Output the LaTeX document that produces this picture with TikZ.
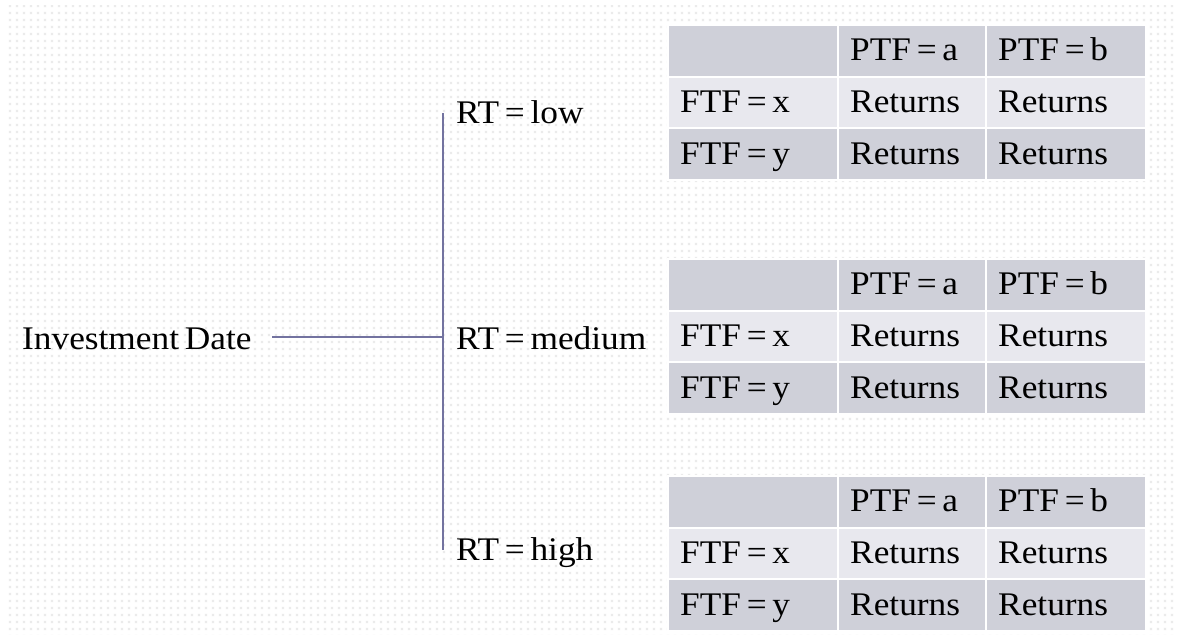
\documentclass[tikz,border=0pt]{standalone}
\usepackage{fontspec}
\setmainfont{Liberation Serif}[FakeStretch=1.07, WordSpace=0.65]
\usetikzlibrary{patterns}
\definecolor{rowdark}{HTML}{CFD0D9}
\definecolor{rowlight}{HTML}{E8E8EE}
\definecolor{linkc}{HTML}{7373A0}
\definecolor{dotc}{HTML}{EBEBEB}
\pgfdeclarepatternformonly{bgdots}{\pgfqpoint{0pt}{0pt}}{\pgfqpoint{7pt}{7pt}}{\pgfqpoint{7pt}{7pt}}{%
  \pgfpathrectangle{\pgfqpoint{2pt}{2pt}}{\pgfqpoint{2.6pt}{2.6pt}}\pgfusepath{fill}}
\tikzset{
  txt/.style={font=\fontsize{33}{40}\selectfont, inner sep=0pt, anchor=base west},
  cell/.style={rectangle, draw=white, line width=2pt, anchor=north west,
    inner sep=0pt, minimum height=51.7pt},
  c1/.style={cell, minimum width=170pt},
  c2/.style={cell, minimum width=148pt},
  c3/.style={cell, minimum width=160pt},
  dk/.style={fill=rowdark},
  lt/.style={fill=rowlight},
  link/.style={draw=linkc, line width=1.4pt}
}
\newcommand{\celltext}[3]{\node[txt] (#1t) at ([xshift=13pt,yshift=-36.7pt]#1.north west) {#2#3};}
\begin{document}
\begin{tikzpicture}[x=1pt,y=-1pt]
\useasboundingbox (0,0) rectangle (1177,638);
\fill[white] (0,0) rectangle (1177,638);
\fill[pattern=bgdots, pattern color=dotc] (5,5) rectangle (1177,634);

\node[txt] (inv) at (22,349) {Investment Date};
\node[txt] (rtl) at (456,123) {RT = low};
\node[txt] (rtm) at (456,349) {RT = medium};
\node[txt] (rth) at (456,560) {RT = high};

\coordinate (vtop) at (443,113);
\coordinate (vmid) at (443,337);
\coordinate (vbot) at (443,550);
\coordinate (hstart) at (272,337);
\draw[link] (hstart) -- (vmid);
\draw[link] (vtop) -- (vbot);

\foreach \t/\y in {A/24, B/258, C/475}{
  \node[c1,dk] (\t11) at (667,\y) {};
  \node[c2,dk] (\t12) at (837,\y) {};
  \node[c3,dk] (\t13) at (985,\y) {};
  \node[c1,lt] (\t21) at (667,\y+51.7) {};
  \node[c2,lt] (\t22) at (837,\y+51.7) {};
  \node[c3,lt] (\t23) at (985,\y+51.7) {};
  \node[c1,dk] (\t31) at (667,\y+103.4) {};
  \node[c2,dk] (\t32) at (837,\y+103.4) {};
  \node[c3,dk] (\t33) at (985,\y+103.4) {};
  \celltext{\t12}{PTF = a}{}
  \celltext{\t13}{PTF = b}{}
  \celltext{\t21}{FTF = x}{}
  \celltext{\t22}{Returns}{}
  \celltext{\t23}{Returns}{}
  \celltext{\t31}{FTF = y}{}
  \celltext{\t32}{Returns}{}
  \celltext{\t33}{Returns}{}
}
\end{tikzpicture}
\end{document}
